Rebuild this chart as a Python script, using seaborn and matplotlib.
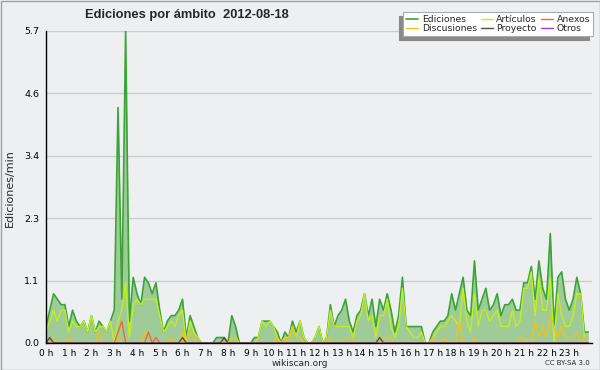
import numpy as np
import pandas as pd
import matplotlib
matplotlib.use("Agg")
import matplotlib.pyplot as plt
from matplotlib.ticker import FixedLocator, MultipleLocator
import seaborn as sns

# valores cada 10 minutos (ediciones/min), 144 puntos
ediciones = [
    0.3, 0.6, 0.9, 0.8, 0.7, 0.7, 0.3, 0.6, 0.4, 0.3, 0.4, 0.2,
    0.5, 0.2, 0.4, 0.3, 0.2, 0.4, 0.6, 4.3, 0.8, 5.7, 0.4, 1.2,
    0.9, 0.7, 1.2, 1.1, 0.9, 1.1, 0.6, 0.2, 0.4, 0.5, 0.5, 0.6,
    0.8, 0.1, 0.5, 0.3, 0.1, 0.0, 0.0, 0.0, 0.0, 0.1, 0.1, 0.1,
    0.0, 0.5, 0.3, 0.0, 0.0, 0.0, 0.0, 0.1, 0.1, 0.4, 0.4, 0.4,
    0.3, 0.2, 0.0, 0.2, 0.1, 0.4, 0.2, 0.4, 0.1, 0.0, 0.0, 0.1,
    0.3, 0.0, 0.1, 0.7, 0.3, 0.5, 0.6, 0.8, 0.4, 0.2, 0.5, 0.6,
    0.9, 0.5, 0.8, 0.3, 0.8, 0.6, 0.9, 0.6, 0.2, 0.5, 1.2, 0.3,
    0.3, 0.3, 0.3, 0.3, 0.0, 0.0, 0.2, 0.3, 0.4, 0.4, 0.5, 0.9,
    0.6, 0.9, 1.2, 0.6, 0.5, 1.5, 0.6, 0.8, 1.0, 0.6, 0.7, 0.9,
    0.5, 0.7, 0.7, 0.8, 0.6, 0.6, 1.1, 1.1, 1.4, 0.8, 1.5, 1.0,
    0.8, 2.0, 0.3, 1.2, 1.3, 0.8, 0.6, 0.8, 1.2, 0.9, 0.2, 0.2,
]
articulos = [
    0.2, 0.4, 0.6, 0.4, 0.6, 0.6, 0.2, 0.4, 0.3, 0.3, 0.4, 0.2,
    0.5, 0.2, 0.3, 0.3, 0.2, 0.4, 0.0, 0.4, 0.6, 1.1, 0.1, 0.7,
    0.8, 0.7, 0.8, 0.8, 0.8, 0.8, 0.5, 0.2, 0.3, 0.4, 0.3, 0.5,
    0.6, 0.0, 0.4, 0.2, 0.1, 0.0, 0.0, 0.0, 0.0, 0.0, 0.0, 0.0,
    0.0, 0.1, 0.1, 0.0, 0.0, 0.0, 0.0, 0.0, 0.1, 0.4, 0.3, 0.4,
    0.3, 0.1, 0.0, 0.1, 0.1, 0.3, 0.1, 0.4, 0.1, 0.0, 0.0, 0.1,
    0.3, 0.0, 0.1, 0.6, 0.3, 0.3, 0.3, 0.3, 0.3, 0.1, 0.4, 0.5,
    0.9, 0.4, 0.5, 0.1, 0.5, 0.5, 0.8, 0.3, 0.1, 0.3, 1.0, 0.3,
    0.2, 0.1, 0.1, 0.2, 0.0, 0.0, 0.1, 0.2, 0.3, 0.3, 0.4, 0.5,
    0.4, 0.3, 1.0, 0.4, 0.2, 0.9, 0.3, 0.6, 0.6, 0.4, 0.5, 0.6,
    0.3, 0.3, 0.3, 0.6, 0.3, 0.4, 1.0, 1.0, 1.3, 0.5, 1.2, 0.6,
    0.6, 1.2, 0.0, 0.9, 0.5, 0.3, 0.3, 0.5, 0.9, 0.9, 0.1, 0.1,
]
# series pequeñas: {indice: valor}, el resto es cero
anexos_pts = {19: 0.2, 20: 0.4, 27: 0.2, 29: 0.1}
discusiones_pts = {
    1: 0.1, 2: 0.1, 6: 0.1, 14: 0.2, 19: 0.1, 26: 0.2, 33: 0.1, 36: 0.2,
    38: 0.2, 39: 0.1, 49: 0.1, 50: 0.1, 61: 0.1, 63: 0.1, 65: 0.3, 66: 0.1,
    67: 0.1, 75: 0.1, 79: 0.1, 80: 0.1, 81: 0.1, 89: 0.1, 90: 0.1, 91: 0.1,
    102: 0.1, 105: 0.1, 109: 0.4, 113: 0.1, 125: 0.1, 126: 0.1, 129: 0.4,
    130: 0.1, 131: 0.3, 132: 0.1, 133: 0.5, 134: 0.3, 135: 0.1, 136: 0.3,
    137: 0.1, 138: 0.1, 139: 0.1, 140: 0.2, 142: 0.1, 143: 0.1,
}
proyecto_pts = {1: 0.1, 36: 0.1, 47: 0.1, 88: 0.1}
otros_pts = {}

def expandir(pts, n=144):
    v = np.zeros(n)
    for k, val in pts.items():
        v[k] = val
    return v

horas = np.arange(144) / 6.0
df = pd.DataFrame({
    "hora": horas,
    "Ediciones": ediciones,
    "Artículos": articulos,
    "Anexos": expandir(anexos_pts),
    "Discusiones": expandir(discusiones_pts),
    "Proyecto": expandir(proyecto_pts),
    "Otros": expandir(otros_pts),
})

colores = {
    "Ediciones": "#3aa537",
    "Artículos": "#c4ee1e",
    "Anexos": "#f06a2a",
    "Discusiones": "#f0c21a",
    "Proyecto": "#505050",
    "Otros": "#9a3ae8",
}
fondo = "#eeeff1"
ymax = 5.7

sns.set_style("white")
plt.rcParams["font.family"] = ["DejaVu Sans"]

fig = plt.figure(figsize=(6, 3.7), dpi=100, facecolor=fondo)
ax = fig.add_axes([46/600, 27/370, 546/600, 312/370])
ax.set_facecolor(fondo)

ax.fill_between(df["hora"], df["Ediciones"], 0, color="#9fcb98", lw=0, zorder=1)
for serie in ["Ediciones", "Artículos", "Discusiones", "Anexos", "Proyecto", "Otros"]:
    sns.lineplot(data=df, x="hora", y=serie, color=colores[serie],
                 lw=1.2 if serie == "Ediciones" else 1,
                 label=serie, ax=ax, zorder=2, legend=False)

ax.set_xlim(0, 24)
ax.set_ylim(0, ymax)
yt = np.linspace(0, ymax, 6)
ax.yaxis.set_major_locator(FixedLocator(yt))
ax.yaxis.set_minor_locator(FixedLocator((yt[:-1] + yt[1:]) / 2))
ax.set_yticklabels([f"{v:.1f}" for v in yt])
ax.xaxis.set_major_locator(FixedLocator(range(24)))
ax.xaxis.set_minor_locator(MultipleLocator(1/6))
ax.set_xticklabels([f"{h} h" for h in range(24)])
ax.grid(axis="y", color="#cccccc", lw=1, zorder=0)
ax.set_axisbelow(True)
for s in ["top", "right"]:
    ax.spines[s].set_visible(False)
for s in ["left", "bottom"]:
    ax.spines[s].set_color("black")
    ax.spines[s].set_linewidth(1)
    ax.spines[s].set_zorder(3)
ax.tick_params(axis="both", which="both", direction="out", colors="black",
               width=0.8)
ax.tick_params(axis="x", which="major", length=3.5, labelsize=6.5, pad=0.5)
ax.tick_params(axis="x", which="minor", length=3)
ax.tick_params(axis="y", which="major", length=4, labelsize=6.8, pad=1)
ax.tick_params(axis="y", which="minor", length=3)
ax.set_xlabel("")
ax.set_ylabel("")

fig.text(85/600, 1 - 15/370, "Ediciones por ámbito  2012-08-18",
         family=["Liberation Sans", "DejaVu Sans"],
         fontsize=9.3, fontweight="bold", ha="left", va="center")
fig.text(10/600, 1 - 188/370, "Ediciones/min", rotation=90,
         fontsize=8, ha="center", va="center")
fig.text(300/600, 1 - 363/370, "wikiscan.org", fontsize=6.5, ha="center", va="center")
fig.text(590/600, 1 - 363/370, "CC BY-SA 3.0", fontsize=5, ha="right", va="center")

handles, labels = ax.get_legend_handles_labels()
orden = ["Ediciones", "Discusiones", "Artículos", "Proyecto", "Anexos", "Otros"]
h = [handles[labels.index(o)] for o in orden]
leg = fig.legend(h, orden, ncol=3, loc="upper right",
                 bbox_to_anchor=(593/600, 1 - 12/370), fontsize=6.7,
                 frameon=True, fancybox=False, edgecolor="#aaaaaa",
                 facecolor="white", framealpha=1, handlelength=1.3,
                 handletextpad=0.4, columnspacing=0.4, labelspacing=0.05,
                 borderpad=0.3, borderaxespad=0,
                 shadow={"ox": -3, "oy": -3, "color": "#8a8a8a", "alpha": 1})
leg.get_frame().set_linewidth(0.8)

borde = plt.Rectangle((0.5/600, 0.5/370), 599/600, 369/370, transform=fig.transFigure,
                      fill=False, edgecolor="#a0a0a0", lw=1)
fig.patches.append(borde)

fig.savefig("out.png", dpi=100, facecolor=fondo)
